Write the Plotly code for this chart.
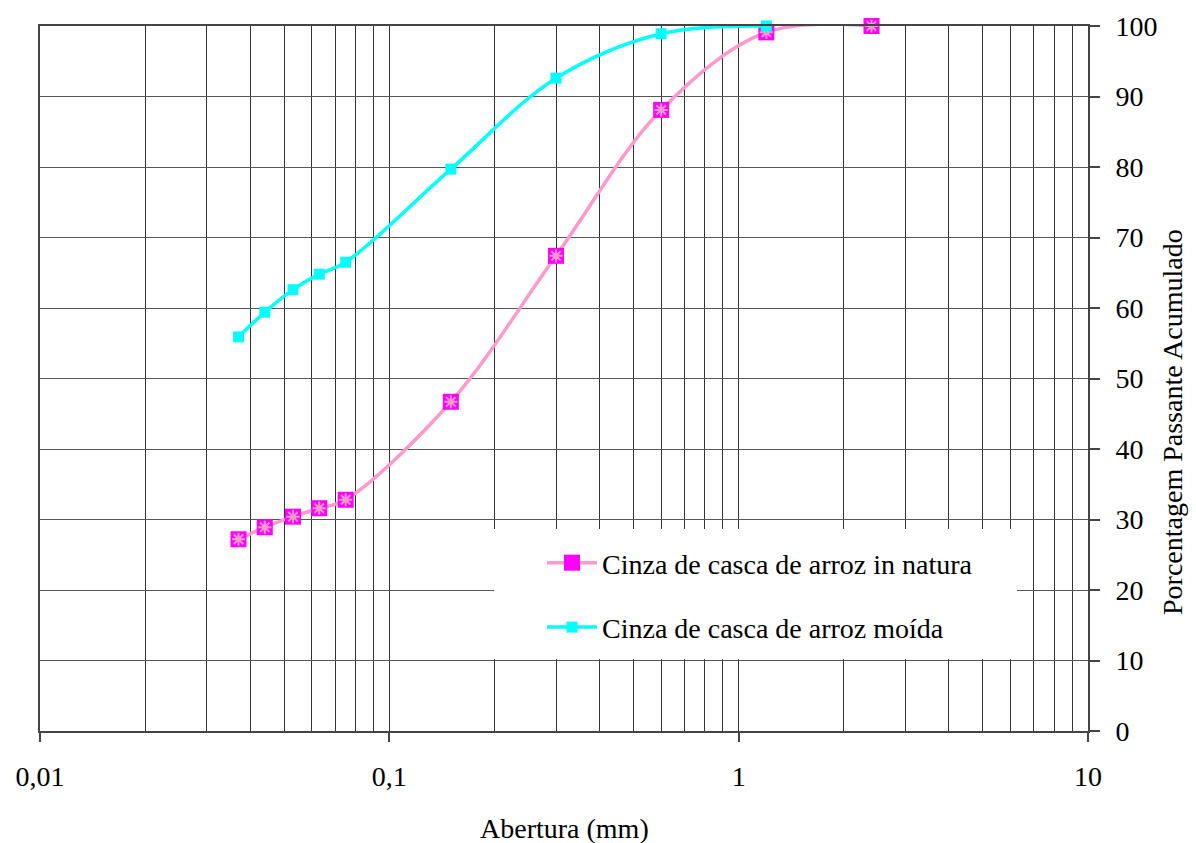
import plotly.graph_objects as go

abertura = [0.037, 0.044, 0.053, 0.063, 0.075, 0.15, 0.3, 0.6, 1.2, 2.4]
in_natura = [27.2, 28.9, 30.4, 31.6, 32.8, 46.7, 67.4, 88.1, 99.1, 100.0]
abertura_moida = [0.037, 0.044, 0.053, 0.063, 0.075, 0.15, 0.3, 0.6, 1.2]
moida = [55.9, 59.4, 62.6, 64.8, 66.5, 79.7, 92.6, 98.9, 100.0]

name_natura = "Cinza de casca de arroz in natura"
name_moida = "Cinza de casca de arroz moída"
x_title = "Abertura (mm)"
y_title = "Porcentagem Passante Acumulado"

FONT = "Liberation Serif, Times New Roman, serif"
PINK = "#FF99CC"
MAGENTA = "#FF00FF"
CYAN = "#00FFFF"

fig = go.Figure()
fig.add_trace(go.Scatter(
    x=abertura, y=in_natura, name=name_natura, mode="lines+markers",
    line=dict(color=PINK, width=3.5, shape="spline", smoothing=1),
    marker=dict(symbol="square", size=16, color=MAGENTA, line=dict(width=0)),
    cliponaxis=False, legendgroup="a", legendrank=1,
))
fig.add_trace(go.Scatter(
    x=abertura, y=in_natura, mode="markers", showlegend=False, hoverinfo="skip",
    marker=dict(symbol="asterisk-open", size=11, color=PINK, line=dict(width=2, color=PINK)),
    cliponaxis=False,
))
fig.add_trace(go.Scatter(
    x=abertura_moida, y=moida, name=name_moida, mode="lines+markers",
    line=dict(color=CYAN, width=3.5, shape="spline", smoothing=1),
    marker=dict(symbol="square", size=11, color=CYAN, line=dict(width=0)),
    cliponaxis=False, legendgroup="b", legendrank=2,
))

L, R, T, B = 40, 108, 26, 112
W, H = 1196, 843
PW, PH = W - L - R, H - T - B


def px_x(p):
    return (p - L) / PW


def px_y(p):
    return (H - B - p) / PH


fig.update_layout(
    width=W, height=H,
    margin=dict(l=L, r=R, t=T, b=B),
    paper_bgcolor="white", plot_bgcolor="white",
    separators=",.",
    font=dict(family=FONT, size=28, color="black"),
    showlegend=True,
    legend=dict(
        x=px_x(542), y=px_y(538),
        xanchor="left", yanchor="top",
        bgcolor="rgba(0,0,0,0)", borderwidth=0,
        font=dict(family=FONT, size=28, color="black"),
        traceorder="grouped", tracegroupgap=25,
        itemwidth=50,
    ),
    shapes=[
        dict(type="rect", xref="paper", yref="paper",
             x0=px_x(494), x1=px_x(1017), y0=px_y(659), y1=px_y(529),
             fillcolor="white", line=dict(width=0), layer="above"),
    ],
    xaxis=dict(
        type="log", range=[-2, 1], dtick=1,
        showgrid=True, gridcolor="#333333", gridwidth=1,
        showline=True, linecolor="#444444", linewidth=2, mirror=True,
        ticks="outside", ticklen=9, tickcolor="#444444", tickwidth=1.5,
        ticklabelstandoff=10,
        tickfont=dict(family=FONT, size=28, color="black"),
        minor=dict(dtick="D1", showgrid=True, gridcolor="#333333", gridwidth=1, ticks=""),
        zeroline=False,
    ),
    yaxis=dict(
        side="right", range=[0, 100], dtick=10,
        showgrid=True, gridcolor="#555555", gridwidth=1,
        showline=True, linecolor="#444444", linewidth=2, mirror=True,
        ticks="outside", ticklen=10, tickcolor="#444444", tickwidth=1.5,
        ticklabelstandoff=10,
        tickfont=dict(family=FONT, size=28, color="black"),
        zeroline=False,
    ),
    annotations=[
        dict(text=x_title, xref="paper", yref="paper", x=0.5, y=px_y(828),
             xanchor="center", yanchor="middle", showarrow=False,
             font=dict(family=FONT, size=28, color="black")),
        dict(text=y_title, xref="paper", yref="paper",
             x=1 + (1173 - (W - R)) / PW, y=px_y(422),
             xanchor="center", yanchor="middle", showarrow=False, textangle=-90,
             font=dict(family=FONT, size=28, color="black")),
    ],
)

fig.write_html(
    "out.html",
    config={"displayModeBar": False},
    post_script="document.body.style.margin='0';document.body.style.overflow='hidden';",
)
